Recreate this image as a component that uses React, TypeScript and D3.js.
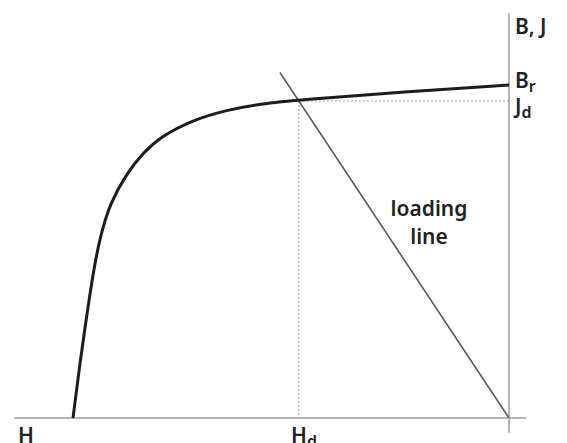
import * as d3 from "d3";

// Demagnetisation curve (second quadrant), H normalised to Hc = -1, B normalised to Br = 1
const curveH = [-1.0, -0.984, -0.97, -0.954, -0.938, -0.915, -0.876, -0.839, -0.8, -0.725, -0.647, -0.571, -0.482, -0.25, 0];
const curveB = [0, 0.165, 0.294, 0.435, 0.544, 0.646, 0.736, 0.796, 0.844, 0.895, 0.925, 0.943, 0.955, 0.979, 1.0];

// Operating point
const Hd = -0.482;
const Jd = 0.952;
// loading line runs from origin through (Hd, Jd) and a bit beyond
const loadExtend = 1.09;

const W = 567;
const H = 443;

export default function App() {
  const x = d3.scaleLinear().domain([-1, 0]).range([73, 509]);
  const y = d3.scaleLinear().domain([0, 1]).range([418, 85]);

  const pts: [number, number][] = curveH.map((h, i) => [h, curveB[i]]);
  const line = d3
    .line<[number, number]>()
    .x((d) => x(d[0]))
    .y((d) => y(d[1]))
    .curve(d3.curveBasis);

  const font = "'Noto Sans', 'Open Sans', sans-serif";
  const axisColor = "#b4b4b4";
  const dotColor = "#9a9a9a";

  return (
    <svg
      width={W}
      height={H}
      style={{ position: "absolute", left: 0, top: 0, background: "#fff" }}
      fontFamily={font}
    >
      {/* axes */}
      <line x1={x(-1.135)} x2={x(0.04)} y1={y(0)} y2={y(0)} stroke={axisColor} strokeWidth={2} />
      <line x1={x(0)} x2={x(0)} y1={y(1.216)} y2={y(-0.045)} stroke={axisColor} strokeWidth={2} />

      {/* dotted guides */}
      <line x1={x(Hd)} x2={x(Hd)} y1={y(Jd)} y2={y(0)} stroke={dotColor} strokeWidth={1} strokeDasharray="2,2" />
      <line x1={x(Hd)} x2={x(0)} y1={y(Jd)} y2={y(Jd)} stroke={dotColor} strokeWidth={1} strokeDasharray="2,2" />

      {/* loading line */}
      <line
        x1={x(0)}
        y1={y(0)}
        x2={x(Hd * loadExtend)}
        y2={y(Jd * loadExtend)}
        stroke="#5a5a5a"
        strokeWidth={1.6}
      />

      {/* B-H curve */}
      <path d={line(pts) ?? ""} fill="none" stroke="#1c1c1c" strokeWidth={3} />

      {/* labels */}
      <g fill="#222" fontWeight={600} fontSize={21}>
        <text x={515} y={34}>B, J</text>
        <text x={515} y={88}>
          B<tspan fontSize={16} dy={4}>r</tspan>
        </text>
        <text x={515} y={114}>
          J<tspan fontSize={16} dy={4}>d</tspan>
        </text>
        <text x={429} y={216} textAnchor="middle">loading</text>
        <text x={429} y={244} textAnchor="middle">line</text>
        <text x={18} y={443}>H</text>
        <text x={291} y={443}>
          H<tspan fontSize={16} dy={4}>d</tspan>
        </text>
      </g>
    </svg>
  );
}
